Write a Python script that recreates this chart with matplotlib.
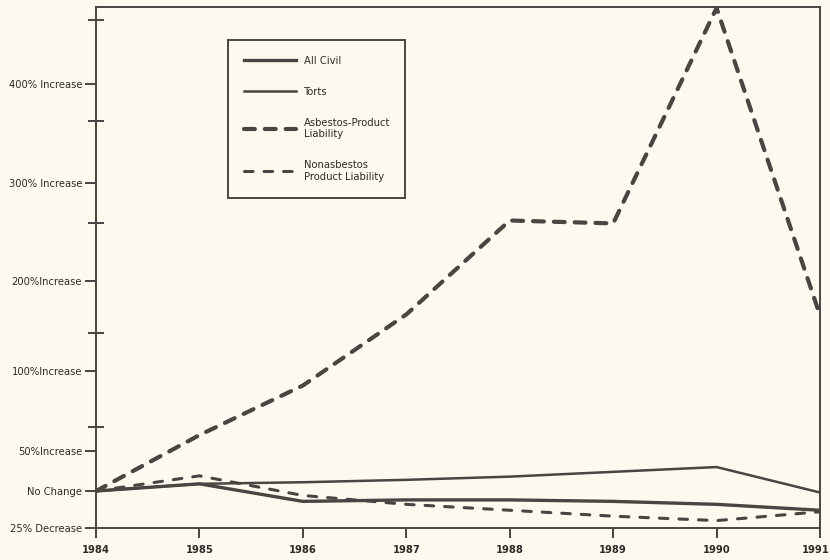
import numpy as np
import matplotlib
matplotlib.use("Agg")
import matplotlib.pyplot as plt
from matplotlib.transforms import ScaledTranslation

# data (percent change relative to 1984)
years = [1984, 1985, 1986, 1987, 1988, 1989, 1990, 1991]
all_civil = [0, 9, -7, -6, -6, -7, -9, -13]
torts = [0, 9, 11, 14, 18, 24, 30, -1]
asbestos = [0, 60, 91, 163, 262, 259, 478, 162]
nonasbestos = [0, 19, -3, -9, -13, -17, -20, -14]

ytick_vals = [-25, 0, 50, 100, 200, 300, 400]
ytick_labels = ["25% Decrease", "No Change", "50%Increase", "100%Increase",
                "200%Increase", "300% Increase", "400% Increase"]
yminor_vals = [65, 142, 259, 363, 466]

# the hand-drawn axis is not linear: piecewise scale through the labelled ticks
pct_anchor = [-50, -25, 0, 50, 100, 200, 300, 400, 500]
pos_anchor = [-37, 0, 37, 77, 157, 247, 345, 444, 542]

def fwd(v):
    return np.interp(v, pct_anchor, pos_anchor)

def inv(p):
    return np.interp(p, pos_anchor, pct_anchor)

bg = "#fcfaee"
ink = "#4a4442"
txt = "#2e2a28"

plt.rcParams['font.family'] = ['DejaVu Sans']
plt.rcParams['font.stretch'] = 'condensed'

fig = plt.figure(figsize=(8.3, 5.6), dpi=100, facecolor=bg)
ax = fig.add_axes([96/830, 1-528/560, (820-96)/830, (528-7)/560])
ax.set_facecolor(bg)

ax.plot(years, all_civil, color=ink, lw=2.4, label="All Civil")
ax.plot(years, torts, color=ink, lw=1.8, label="Torts")
ax.plot(years, asbestos, color=ink, lw=3.0, ls=(0, (2.6, 2.4)),
        dash_capstyle='round', label="Asbestos-Product\nLiability")
ax.plot(years, nonasbestos, color=ink, lw=2.2, ls=(0, (2.8, 3.6)),
        dash_capstyle='round', label="Nonasbestos\nProduct Liability")

ax.set_yscale('function', functions=(fwd, inv))
ax.set_ylim(-25, 479)
ax.set_xlim(1984, 1991)

ax.set_yticks(ytick_vals)
ax.set_yticklabels(ytick_labels)
ax.set_yticks(yminor_vals, minor=True)
ax.yaxis.set_minor_formatter(plt.NullFormatter())
ax.set_xticks(years)
ax.set_xticklabels([str(y) for y in years])

ax.tick_params(axis='y', which='major', direction='out', length=8, width=1.4,
               color=ink, labelsize=8, labelcolor=txt, pad=2)
ax.tick_params(axis='y', which='minor', direction='inout', length=11, width=1.4,
               color=ink)
ax.tick_params(axis='x', which='major', direction='out', length=7, width=1.4,
               color=ink, labelsize=8, labelcolor=txt, pad=5)
for lab in ax.get_xticklabels():
    lab.set_fontweight('bold')
last = ax.get_xticklabels()[-1]
last.set_transform(last.get_transform() + ScaledTranslation(-4/100, 0, fig.dpi_scale_trans))

for s in ax.spines.values():
    s.set_color(ink)
    s.set_linewidth(1.4)

leg = ax.legend(loc='upper left', bbox_to_anchor=(228/830, 1-40/560),
                bbox_transform=fig.transFigure, frameon=True, fancybox=False,
                edgecolor=ink, facecolor=bg, framealpha=1, fontsize=8,
                handlelength=4.7, handletextpad=0.7, labelspacing=1.9,
                borderpad=1.4, borderaxespad=0)
leg.get_frame().set_linewidth(1.4)
for t in leg.get_texts():
    t.set_color(txt)

fig.savefig("out.png", dpi=100, facecolor=bg)
